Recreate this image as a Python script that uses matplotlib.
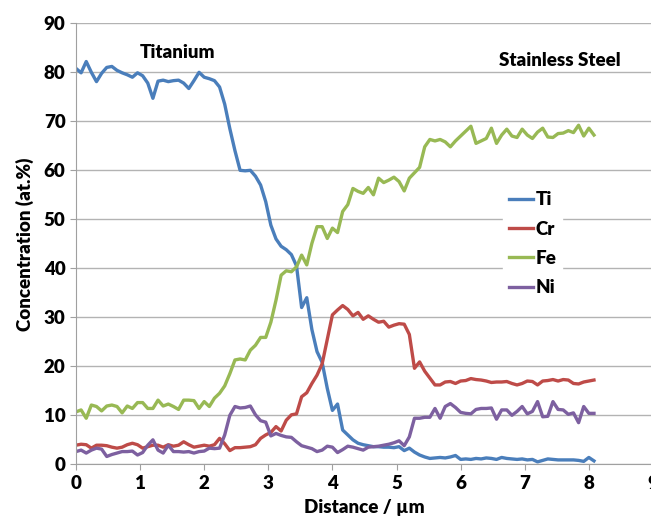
import matplotlib
matplotlib.use('Agg')
import matplotlib.pyplot as plt
import numpy as np

plt.rcParams['font.family'] = ['Lato', 'DejaVu Sans']
plt.rcParams['font.weight'] = 'bold'

# distance along the line scan, um (step 0.08)
distance = np.round(np.arange(102) * 0.08, 2)

ti = [80.8, 79.9, 82.2, 80.0, 78.1, 79.8, 81.0, 81.2, 80.4, 79.9,
      79.5, 79.0, 79.9, 79.3, 77.8, 74.7, 78.2, 78.4, 78.1, 78.3,
      78.4, 77.8, 76.7, 78.3, 80.0, 79.0, 78.7, 78.3, 77.0, 73.5,
      68.5, 64.0, 60.0, 59.9, 60.0, 58.8, 57.0, 53.6, 48.8, 46.0,
      44.5, 43.8, 42.8, 40.5, 32.0, 34.0, 27.5, 23.0, 20.8, 15.5,
      11.0, 12.3, 7.0, 6.0, 5.0, 4.3, 4.0, 3.8, 3.6, 3.6,
      3.5, 3.5, 3.4, 3.6, 2.8, 3.3, 2.5, 1.9, 1.5, 1.2,
      1.3, 1.4, 1.3, 1.5, 1.8, 1.0, 1.1, 1.0, 1.2, 1.1,
      1.3, 1.2, 1.0, 1.4, 1.2, 1.1, 1.0, 1.1, 0.9, 1.0,
      0.5, 0.8, 1.1, 1.0, 0.9, 0.9, 0.9, 0.9, 0.8, 0.6,
      1.4, 0.7]

cr = [3.9, 4.1, 4.0, 3.3, 3.9, 3.9, 3.8, 3.5, 3.3, 3.5,
      4.0, 4.3, 4.0, 3.3, 3.6, 3.9, 3.9, 3.5, 4.0, 3.7,
      3.9, 4.6, 4.0, 3.5, 3.7, 3.9, 3.7, 4.0, 5.3, 4.2,
      2.8, 3.4, 3.4, 3.5, 3.6, 4.0, 5.3, 6.0, 6.5, 7.7,
      6.8, 9.0, 10.1, 10.3, 13.8, 14.6, 16.5, 18.2, 20.5, 25.5,
      30.5, 31.5, 32.4, 31.6, 30.3, 31.0, 29.6, 30.3, 29.6, 29.0,
      29.2, 28.0, 28.4, 28.7, 28.6, 26.5, 19.6, 20.9, 19.0, 17.6,
      16.2, 16.2, 16.8, 16.9, 16.5, 17.0, 17.1, 17.5, 17.3, 17.2,
      17.0, 16.7, 16.8, 16.8, 16.9, 16.5, 16.2, 16.5, 17.0, 16.9,
      16.2, 17.0, 17.1, 17.3, 17.0, 17.3, 17.2, 16.5, 16.4, 16.8,
      17.0, 17.2]

fe = [10.7, 11.1, 9.4, 12.1, 11.8, 10.9, 11.9, 12.1, 11.8, 10.5,
      11.9, 11.4, 12.6, 12.6, 11.4, 11.4, 13.1, 11.9, 12.3, 11.8,
      11.2, 13.1, 13.1, 13.0, 11.4, 12.8, 11.8, 13.5, 14.5, 16.0,
      18.5, 21.3, 21.5, 21.3, 23.3, 24.3, 25.9, 25.9, 29.0, 33.5,
      38.6, 39.5, 39.3, 40.3, 42.7, 40.7, 45.1, 48.5, 48.5, 46.1,
      48.2, 47.3, 51.6, 53.0, 56.3, 55.7, 55.3, 56.5, 55.0, 58.4,
      57.5, 58.0, 58.6, 57.7, 55.8, 58.4, 59.5, 60.6, 64.8, 66.3,
      66.0, 66.3, 65.8, 64.8, 66.0, 67.0, 68.0, 69.0, 65.5, 66.0,
      66.5, 68.6, 65.5, 67.2, 68.4, 67.0, 66.7, 68.4, 67.2, 66.5,
      67.8, 68.6, 66.8, 66.7, 67.5, 67.6, 68.1, 67.7, 69.2, 67.0,
      68.6, 67.2]

ni = [2.6, 2.9, 2.3, 2.9, 3.3, 3.1, 1.6, 2.0, 2.3, 2.6,
      2.6, 2.7, 1.9, 2.4, 3.9, 5.0, 2.9, 2.3, 3.9, 2.6,
      2.6, 2.5, 2.6, 2.3, 2.6, 2.7, 3.3, 3.2, 3.3, 6.0,
      10.0, 11.8, 11.5, 11.6, 11.9, 10.1, 8.9, 8.6, 5.8, 6.3,
      5.9, 5.6, 5.5, 4.6, 3.8, 3.5, 3.2, 2.6, 2.9, 3.7,
      3.5, 2.4, 3.0, 3.7, 3.5, 3.2, 2.9, 3.5, 3.6, 3.7,
      3.9, 4.1, 4.4, 4.8, 3.8, 5.6, 9.4, 9.4, 9.6, 9.6,
      11.4, 9.4, 11.8, 12.4, 11.6, 10.6, 10.4, 10.3, 11.2, 11.4,
      11.4, 11.5, 9.2, 11.1, 11.1, 10.0, 10.8, 11.8, 10.3, 10.8,
      12.8, 9.7, 9.8, 12.8, 11.2, 11.1, 10.2, 10.5, 8.5, 11.8,
      10.4, 10.4]

labels = ['Ti', 'Cr', 'Fe', 'Ni']
colors = ['#4A7EBB', '#BE4B48', '#98B954', '#7D60A0']

fig = plt.figure(figsize=(6.51, 5.23), dpi=100)
ax = fig.add_axes([0.1167, 0.1122, 0.8863, 0.8432])

for series, name, c in zip([ti, cr, fe, ni], labels, colors):
    ax.plot(distance, series, color=c, lw=2.4, label=name, solid_joinstyle='round')

ax.set_xlim(0, 9)
ax.set_ylim(0, 90)
ax.set_xticks(range(0, 10))
ax.set_yticks(range(0, 91, 10))
ax.yaxis.grid(True, color='#B3B3B3', lw=1)
ax.set_axisbelow(True)
for s in ['top', 'right']:
    ax.spines[s].set_visible(False)
for s in ['left', 'bottom']:
    ax.spines[s].set_color('#A0A0A0')
ax.tick_params(axis='both', colors='#A0A0A0', labelcolor='black', labelsize=13.5, length=4)
for t in ax.get_xticklabels() + ax.get_yticklabels():
    t.set_fontweight('heavy')

ax.set_xlabel('Distance / µm', fontsize=13.5, fontweight='heavy', labelpad=5)
ax.set_ylabel('Concentration (at.%)', fontsize=13.5, fontweight='heavy', labelpad=7)

ax.text(1.58, 84.1, 'Titanium', ha='center', va='center', fontsize=13.5, fontweight='heavy')
ax.text(7.55, 82.5, 'Stainless Steel', ha='center', va='center', fontsize=13.5, fontweight='heavy')

leg = ax.legend(loc='upper left', bbox_to_anchor=(0.74, 0.632), frameon=True,
                fancybox=False, edgecolor='white', framealpha=1, fontsize=13.5,
                handlelength=1.3, handletextpad=0.15, labelspacing=0.66,
                borderpad=0.3, borderaxespad=0)
for t in leg.get_texts():
    t.set_fontweight('heavy')

fig.savefig('out.png', dpi=100)
